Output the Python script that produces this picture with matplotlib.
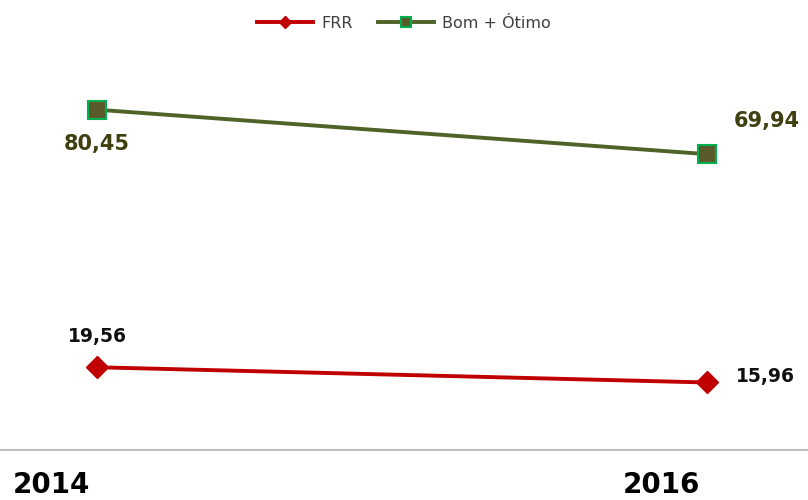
import matplotlib.pyplot as plt
from matplotlib.transforms import ScaledTranslation

years = ["2014", "2016"]
frr = [19.56, 15.96]
bom_otimo = [80.45, 69.94]
frr_labels = ["19,56", "15,96"]
bom_labels = ["80,45", "69,94"]

fig = plt.figure(figsize=(8.08, 5), dpi=100)
ax = fig.add_axes([0, 0.1, 1, 0.846])

x = list(range(len(years)))
ax.plot(x, frr, color="#C00000", lw=2.8, marker="D", ms=11.5,
        mfc="#C00000", mec="#C00000", label="FRR")
ax.plot(x, bom_otimo, color="#4F6228", lw=2.8, marker="s", ms=13,
        mfc="#5A5A2A", mec="#00B050", mew=1.5, label="Bom + Ótimo")

# data labels (Excel-style positions)
ax.annotate(bom_labels[0], (x[0], bom_otimo[0]), xytext=(0, -25), textcoords="offset points",
            ha="center", va="center", fontsize=15, fontweight="bold", color="#3F3F10")
ax.annotate(bom_labels[1], (x[1], bom_otimo[1]), xytext=(43, 24), textcoords="offset points",
            ha="center", va="center", fontsize=15, fontweight="bold", color="#3F3F10")
ax.annotate(frr_labels[0], (x[0], frr[0]), xytext=(0, 22), textcoords="offset points",
            ha="center", va="center", fontsize=13.5, fontweight="bold", color="#111111")
ax.annotate(frr_labels[1], (x[1], frr[1]), xytext=(42, 4), textcoords="offset points",
            ha="center", va="center", fontsize=13.5, fontweight="bold", color="#111111")

ax.set_xlim(-97 / 610, 1 + 101 / 610)
ax.set_ylim(0, 100)
ax.set_xticks(x)
ax.set_xticklabels(years, fontsize=20, fontweight="bold", ha="right")
ax.tick_params(axis="x", length=0, pad=15)
shift = ScaledTranslation(-5 / 72, 0, fig.dpi_scale_trans)
for lbl in ax.get_xticklabels():
    lbl.set_transform(lbl.get_transform() + shift)
ax.set_yticks([])
for s in ["top", "left", "right"]:
    ax.spines[s].set_visible(False)
ax.spines["bottom"].set_color("#BFBFBF")
ax.spines["bottom"].set_linewidth(1.5)

leg = ax.legend(loc="center", bbox_to_anchor=(0.5, 1.0 + 4 / 423), ncol=2, frameon=False,
                fontsize=11.5, handlelength=3.5, columnspacing=1.6, handletextpad=0.5,
                markerscale=0.55)
for t in leg.get_texts():
    t.set_color("#404040")

plt.savefig("out.png", dpi=100)
